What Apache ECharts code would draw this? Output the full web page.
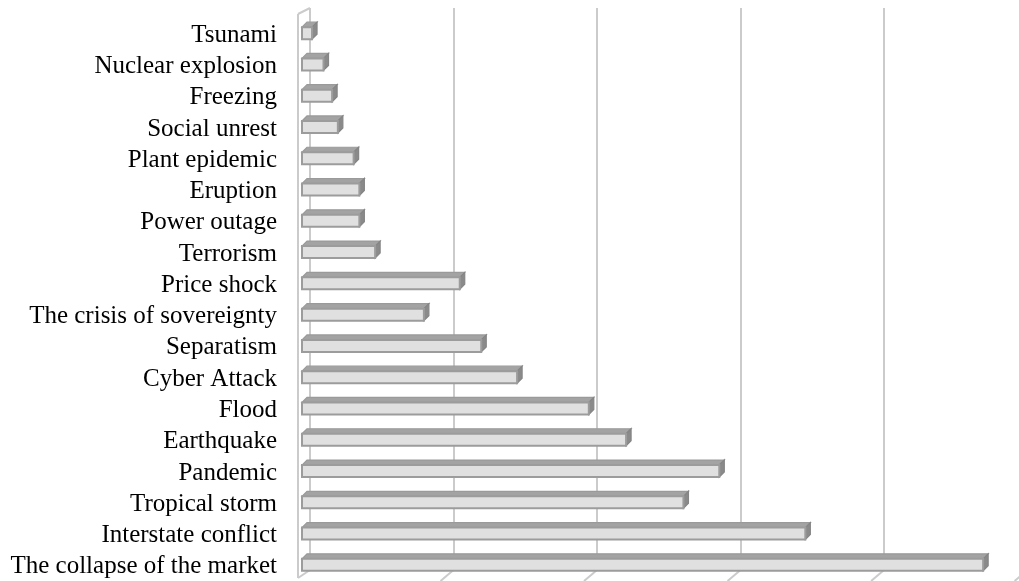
<!DOCTYPE html>
<html>
<head>
<meta charset="utf-8">
<script src="https://cdn.jsdelivr.net/npm/echarts@6/dist/echarts.min.js"></script>
<style>
html,body{margin:0;padding:0;background:#fff;}
#chart{width:1019px;height:581px;}
</style>
</head>
<body>
<div id="chart"></div>
<script>
const categories = [
  "Tsunami", "Nuclear explosion", "Freezing", "Social unrest", "Plant epidemic",
  "Eruption", "Power outage", "Terrorism", "Price shock", "The crisis of sovereignty",
  "Separatism", "Cyber Attack", "Flood", "Earthquake", "Pandemic",
  "Tropical storm", "Interstate conflict", "The collapse of the market"
];
const values = [0.7, 1.5, 2.1, 2.5, 3.6, 4.0, 4.0, 5.1, 11.0, 8.5, 12.5, 15.0, 20.0, 22.6, 29.1, 26.6, 35.1, 47.5];
const gridTicks = [0, 10, 20, 30, 40, 50];
const axisMax = 50;
const backAxisMax = 49.4;
const tickInterval = 10;

const chart = echarts.init(document.getElementById('chart'), null, {renderer: 'canvas'});

const WALL_DX = 12, WALL_DY = 6;
const FLOOR_DX = 13, FLOOR_DY = 11;
const lineCol = '#cbcbcb';

const option = {
  animation: false,
  backgroundColor: '#ffffff',
  grid: [
    {left: 302, right: 0, top: 15.5, bottom: 2.5},
    {left: 310, right: 0, top: 8, bottom: 11}
  ],
  xAxis: [
    {gridIndex: 0, type: 'value', min: 0, max: axisMax, interval: tickInterval,
     axisLine: {show: false}, axisTick: {show: false}, axisLabel: {show: false}, splitLine: {show: false}},
    {gridIndex: 1, type: 'value', min: 0, max: backAxisMax, interval: tickInterval,
     axisLine: {show: false}, axisTick: {show: false}, axisLabel: {show: false},
     splitLine: {show: true, showMaxLine: false, lineStyle: {color: lineCol, width: 2}}}
  ],
  yAxis: [
    {gridIndex: 0, type: 'category', data: categories, inverse: true,
     axisLine: {show: false}, axisTick: {show: false}, splitLine: {show: false},
     axisLabel: {interval: 0, margin: 25, color: '#000', fontSize: 25,
                 verticalAlign: 'top', lineHeight: 8,
                 fontFamily: '"Liberation Serif", "Times New Roman", serif'}},
    {gridIndex: 1, type: 'value', min: 0, max: 1,
     axisLine: {show: false}, axisTick: {show: false}, axisLabel: {show: false}, splitLine: {show: false}}
  ],
  series: [
    {
      type: 'custom', xAxisIndex: 1, yAxisIndex: 1, z: 1, silent: true, clip: false,
      data: gridTicks.map(v => [v]),
      encode: {x: 0},
      renderItem: function (params, api) {
        const v = api.value(0);
        const b = api.coord([v, 0]);
        const t = api.coord([v, 1]);
        const children = [];
        const style = {stroke: lineCol, lineWidth: 2, fill: null};
        if (v === 0) {
          const fx = b[0] - WALL_DX;
          children.push({type: 'line', shape: {x1: fx, y1: t[1] + WALL_DY, x2: fx, y2: b[1] + 8}, style: style});
          children.push({type: 'line', shape: {x1: fx, y1: t[1] + WALL_DY, x2: t[0], y2: t[1]}, style: style});
          children.push({type: 'line', shape: {x1: b[0], y1: b[1], x2: fx, y2: b[1] + 8}, style: style});
        } else {
          children.push({type: 'line', shape: {x1: b[0], y1: b[1], x2: b[0] - FLOOR_DX, y2: b[1] + FLOOR_DY}, style: style});
        }
        return {type: 'group', children: children};
      }
    },
    {
      type: 'custom', xAxisIndex: 0, yAxisIndex: 0, z: 5, silent: true,
      data: values.map((v, i) => [v, i]),
      encode: {x: 0, y: 1},
      renderItem: function (params, api) {
        const v = api.value(0);
        const c = api.value(1);
        const p0 = api.coord([0, c]);
        const p1 = api.coord([v, c]);
        const h = 12, dx = 5, dy = 5;
        const x0 = p0[0], x1 = p1[0];
        const yt = p0[1] - 4, yb = yt + h;
        return {
          type: 'group',
          children: [
            {type: 'polygon', shape: {points: [[x0, yt], [x1, yt], [x1 + dx, yt - dy], [x0 + dx, yt - dy]]},
             style: {fill: '#a3a3a3', stroke: '#9a9a9a', lineWidth: 1.2}},
            {type: 'polygon', shape: {points: [[x1, yt], [x1 + dx, yt - dy], [x1 + dx, yb - dy], [x1, yb]]},
             style: {fill: '#8a8a8a', stroke: '#858585', lineWidth: 1.2}},
            {type: 'rect', shape: {x: x0, y: yt, width: x1 - x0, height: h},
             style: {fill: '#e0e0e0', stroke: '#9c9c9c', lineWidth: 2}}
          ]
        };
      }
    }
  ]
};
chart.setOption(option);
</script>
</body>
</html>
